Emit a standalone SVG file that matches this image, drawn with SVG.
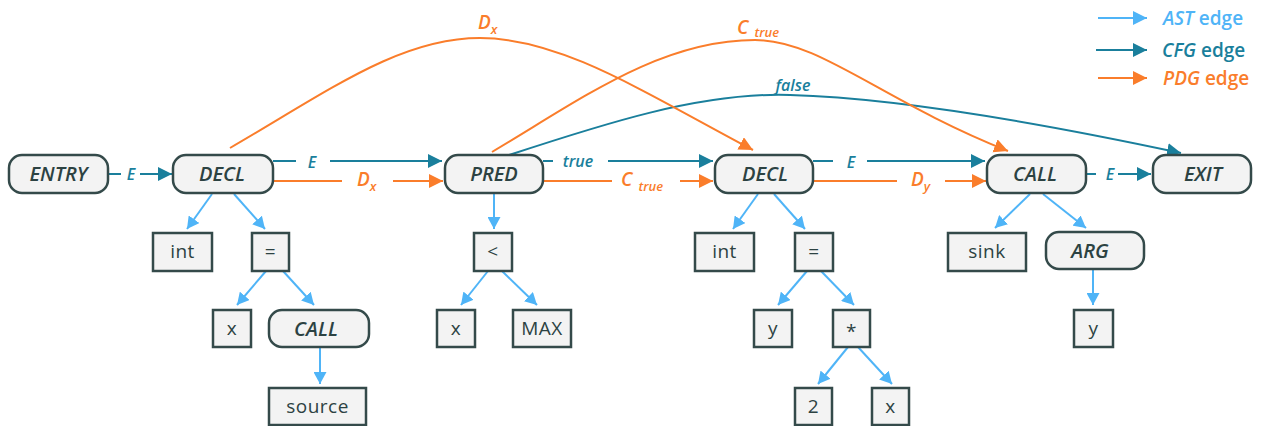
<svg xmlns="http://www.w3.org/2000/svg" width="1266" height="426" viewBox="0 0 1266 426">
  <style>
    .node rect { fill: #f3f3f3; stroke: #344a4a; stroke-width: 2.5; }
    .node text { font-family: "Open Sans", "Liberation Sans", sans-serif; fill: #2c4242; text-anchor: middle; }
    .stmt text { font-size: 20px; font-style: italic; font-weight: 600; }
    .leaf text { font-size: 19px; letter-spacing: 0.5px; }
    .ast { stroke: #4fb4f7; stroke-width: 2; fill: none; }
    .cfg { stroke: #1a7f9c; stroke-width: 2; fill: none; }
    .pdg { stroke: #fa7d2b; stroke-width: 2; fill: none; }
    .lbl { font-family: "Open Sans", "Liberation Sans", sans-serif; font-style: italic; }
    .lcfg { fill: #1a7f9c; font-size: 16px; font-weight: 600; }
    .lpdg { fill: #fa7d2b; font-size: 19px; font-weight: 600; }
    .sub { font-size: 13px; }
    .legend text { font-family: "Open Sans", "Liberation Sans", sans-serif; font-size: 19px; font-weight: 600; }
  </style>
  <defs>
    <marker id="ah-ast" markerUnits="userSpaceOnUse" markerWidth="13" markerHeight="13" refX="12" refY="6.5" orient="auto">
      <path d="M0,0 L12,6.5 L0,13 z" fill="#4fb4f7"/>
    </marker>
    <marker id="ah-ast-lg" markerUnits="userSpaceOnUse" markerWidth="15" markerHeight="15" refX="14" refY="7" orient="auto">
      <path d="M0,0 L14,7 L0,14 z" fill="#4fb4f7"/>
    </marker>
    <marker id="ah-cfg" markerUnits="userSpaceOnUse" markerWidth="15" markerHeight="15" refX="14" refY="7" orient="auto">
      <path d="M0,0 L14,7 L0,14 z" fill="#1a7f9c"/>
    </marker>
    <marker id="ah-pdg" markerUnits="userSpaceOnUse" markerWidth="15" markerHeight="15" refX="14" refY="7" orient="auto">
      <path d="M0,0 L14,7 L0,14 z" fill="#fa7d2b"/>
    </marker>
  </defs>

  <!-- connectors -->
  <g id="connectors">
    <!-- AST edges -->
    <g id="ast-edges">
      <line class="ast" x1="212" y1="194" x2="187" y2="229" marker-end="url(#ah-ast)"/>
      <line class="ast" x1="234" y1="194" x2="265" y2="229" marker-end="url(#ah-ast)"/>
      <line class="ast" x1="266" y1="271" x2="237" y2="305" marker-end="url(#ah-ast)"/>
      <line class="ast" x1="283" y1="271" x2="314" y2="305" marker-end="url(#ah-ast)"/>
      <line class="ast" x1="320" y1="347" x2="320" y2="384" marker-end="url(#ah-ast)"/>
      <line class="ast" x1="494" y1="194" x2="494" y2="229" marker-end="url(#ah-ast)"/>
      <line class="ast" x1="488" y1="271" x2="461" y2="305" marker-end="url(#ah-ast)"/>
      <line class="ast" x1="502" y1="271" x2="537" y2="305" marker-end="url(#ah-ast)"/>
      <line class="ast" x1="758" y1="194" x2="733" y2="229" marker-end="url(#ah-ast)"/>
      <line class="ast" x1="774" y1="194" x2="805" y2="229" marker-end="url(#ah-ast)"/>
      <line class="ast" x1="807" y1="271" x2="778" y2="305" marker-end="url(#ah-ast)"/>
      <line class="ast" x1="821" y1="271" x2="854" y2="305" marker-end="url(#ah-ast)"/>
      <line class="ast" x1="848" y1="347" x2="818" y2="384" marker-end="url(#ah-ast)"/>
      <line class="ast" x1="858" y1="347" x2="892" y2="384" marker-end="url(#ah-ast)"/>
      <line class="ast" x1="1030" y1="194" x2="995" y2="228" marker-end="url(#ah-ast)"/>
      <line class="ast" x1="1043" y1="194" x2="1086" y2="228" marker-end="url(#ah-ast)"/>
      <line class="ast" x1="1093" y1="269" x2="1093" y2="305" marker-end="url(#ah-ast)"/>
    </g>

    <!-- CFG edges -->
    <g id="cfg-edges">
      <line class="cfg" x1="108" y1="174" x2="121" y2="174"/>
      <line class="cfg" x1="140" y1="174" x2="172" y2="174" marker-end="url(#ah-cfg)"/>
      <text class="lbl lcfg" x="131" y="180" text-anchor="middle">E</text>

      <line class="cfg" x1="273" y1="161" x2="296" y2="161"/>
      <line class="cfg" x1="330" y1="161" x2="442" y2="161" marker-end="url(#ah-cfg)"/>
      <text class="lbl lcfg" x="312" y="168" text-anchor="middle">E</text>

      <line class="cfg" x1="543" y1="161" x2="553" y2="161"/>
      <line class="cfg" x1="608" y1="161" x2="713" y2="161" marker-end="url(#ah-cfg)"/>
      <text class="lbl lcfg" x="578" y="167" text-anchor="middle">true</text>

      <line class="cfg" x1="813" y1="161" x2="833" y2="161"/>
      <line class="cfg" x1="867" y1="161" x2="985" y2="161" marker-end="url(#ah-cfg)"/>
      <text class="lbl lcfg" x="851" y="168" text-anchor="middle">E</text>

      <line class="cfg" x1="1086" y1="174" x2="1096" y2="174"/>
      <line class="cfg" x1="1118" y1="174" x2="1151" y2="174" marker-end="url(#ah-cfg)"/>
      <text class="lbl lcfg" x="1110" y="180" text-anchor="middle">E</text>

      <path class="cfg" d="M503,157 C600,125 700,92 790,95 C900,98 1050,125 1181,153" marker-end="url(#ah-cfg)"/>
      <text class="lbl lcfg" x="793" y="91" text-anchor="middle" font-size="17">false</text>
    </g>

    <!-- PDG edges -->
    <g id="pdg-edges">
      <line class="pdg" x1="273" y1="181" x2="342" y2="181"/>
      <line class="pdg" x1="393" y1="181" x2="443" y2="181" marker-end="url(#ah-pdg)"/>
      <text class="lbl lpdg" x="357" y="186">D<tspan class="sub" dy="5">x</tspan></text>

      <line class="pdg" x1="543" y1="181" x2="612" y2="181"/>
      <line class="pdg" x1="680" y1="181" x2="713" y2="181" marker-end="url(#ah-pdg)"/>
      <text class="lbl lpdg" x="621" y="186">C<tspan class="sub" dx="6" dy="5">true</tspan></text>

      <line class="pdg" x1="813" y1="181" x2="897" y2="181"/>
      <line class="pdg" x1="945" y1="181" x2="986" y2="181" marker-end="url(#ah-pdg)"/>
      <text class="lbl lpdg" x="911" y="186">D<tspan class="sub" dy="5">y</tspan></text>

      <path class="pdg" d="M230,148 C330,90 400,38 480,38 C560,38 640,90 753,150" marker-end="url(#ah-pdg)"/>
      <text class="lbl lpdg" x="478" y="29">D<tspan class="sub" dy="5">x</tspan></text>

      <path class="pdg" d="M492,152 C580,100 660,40 755,40 C820,40 880,100 1008,151" marker-end="url(#ah-pdg)"/>
      <text class="lbl lpdg" x="737" y="34">C<tspan class="sub" dx="6" dy="3">true</tspan></text>
    </g>
  </g>

  <!-- statement nodes -->
  <g id="entry" class="node stmt"><rect x="9" y="155" width="99" height="38" rx="13"/><text x="58.5" y="181">ENTRY</text></g>
  <g id="decl1" class="node stmt"><rect x="173" y="155" width="100" height="38" rx="13"/><text x="222" y="181">DECL</text></g>
  <g id="pred" class="node stmt"><rect x="445" y="155" width="98" height="38" rx="13"/><text x="494" y="181">PRED</text></g>
  <g id="decl2" class="node stmt"><rect x="715" y="155" width="98" height="38" rx="13"/><text x="765" y="181">DECL</text></g>
  <g id="call1" class="node stmt"><rect x="987" y="155" width="99" height="38" rx="13"/><text x="1035" y="181">CALL</text></g>
  <g id="exit" class="node stmt"><rect x="1153" y="155" width="98" height="38" rx="13"/><text x="1203" y="181">EXIT</text></g>

  <!-- inner AST nodes -->
  <g id="call2" class="node stmt"><rect x="269" y="310" width="100" height="37" rx="13"/><text x="316" y="336">CALL</text></g>
  <g id="arg" class="node stmt"><rect x="1046" y="232" width="98" height="37" rx="13"/><text x="1090" y="258">ARG</text></g>

  <g id="int1" class="node leaf"><rect x="153" y="233" width="59" height="38"/><text x="182.5" y="258">int</text></g>
  <g id="assign1" class="node leaf"><rect x="252" y="233" width="37" height="38"/><text x="270.5" y="258">=</text></g>
  <g id="x1" class="node leaf"><rect x="213" y="310" width="38" height="37"/><text x="232" y="335">x</text></g>
  <g id="source" class="node leaf"><rect x="269" y="388" width="97" height="37"/><text x="317.5" y="413">source</text></g>

  <g id="lt" class="node leaf"><rect x="474" y="233" width="38" height="38"/><text x="493" y="258">&lt;</text></g>
  <g id="x2" class="node leaf"><rect x="437" y="310" width="38" height="37"/><text x="456" y="335">x</text></g>
  <g id="max" class="node leaf"><rect x="513" y="310" width="58" height="37"/><text x="542" y="335">MAX</text></g>

  <g id="int2" class="node leaf"><rect x="695" y="233" width="59" height="38"/><text x="724.5" y="258">int</text></g>
  <g id="assign2" class="node leaf"><rect x="795" y="233" width="38" height="38"/><text x="814" y="258">=</text></g>
  <g id="y1" class="node leaf"><rect x="754" y="310" width="38" height="37"/><text x="773" y="335">y</text></g>
  <g id="mul" class="node leaf"><rect x="833" y="310" width="37" height="37"/><text x="851.5" y="338">*</text></g>
  <g id="two" class="node leaf"><rect x="795" y="388" width="37" height="37"/><text x="813.5" y="413">2</text></g>
  <g id="x3" class="node leaf"><rect x="872" y="388" width="37" height="37"/><text x="890.5" y="413">x</text></g>

  <g id="sink" class="node leaf"><rect x="948" y="233" width="78" height="38"/><text x="987" y="258">sink</text></g>
  <g id="y2" class="node leaf"><rect x="1074" y="310" width="39" height="37"/><text x="1093.5" y="335">y</text></g>

  <!-- legend -->
  <g id="legend" class="legend">
    <line class="ast" x1="1098" y1="18" x2="1147" y2="18" marker-end="url(#ah-ast-lg)"/>
    <text x="1163" y="25" fill="#4fb4f7"><tspan font-style="italic">AST</tspan> edge</text>
    <line class="cfg" x1="1096" y1="50" x2="1147" y2="50" marker-end="url(#ah-cfg)"/>
    <text x="1162" y="57" fill="#1a7f9c"><tspan font-style="italic">CFG</tspan> edge</text>
    <line class="pdg" x1="1098" y1="78" x2="1147" y2="78" marker-end="url(#ah-pdg)"/>
    <text x="1163" y="85" fill="#fa7d2b"><tspan font-style="italic">PDG</tspan> edge</text>
  </g>
</svg>
